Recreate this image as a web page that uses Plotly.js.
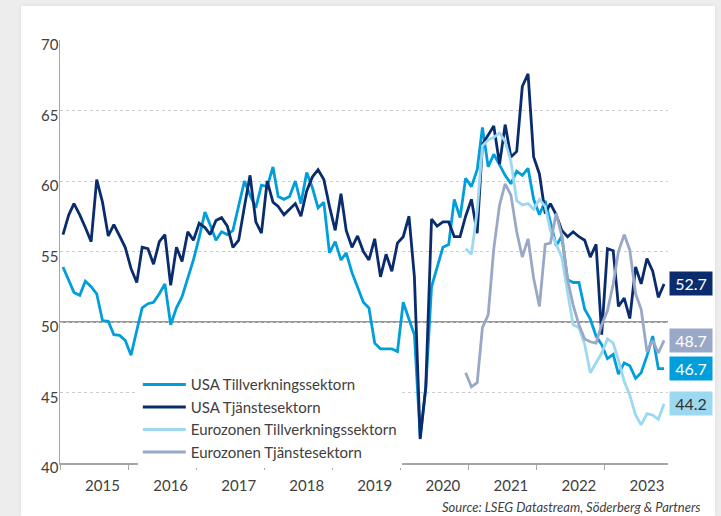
<!DOCTYPE html>
<html><head><meta charset="utf-8">
<script src="https://cdn.plot.ly/plotly-3.0.1.min.js"></script>
<style>
html,body{margin:0;padding:0;background:#eeeded;width:721px;height:516px;overflow:hidden;}
#card{position:absolute;left:21px;top:6px;width:694px;height:510px;background:#fff;box-shadow:0 0 5px rgba(0,0,0,0.07);}
#chart{width:694px;height:510px;}
</style></head>
<body><div id="card"><div id="chart"></div></div>
<script>
// ---- data (monthly) ----
const usaStart = [2015, 1];   // first month of USA series
const euroStart = [2020, 12]; // first month of Eurozone series

const usaManufacturing = [
  53.9, 53.0, 52.1, 51.9, 52.9, 52.5, 52.0, 50.1, 50.05, 49.1, 49.05, 48.7,
  47.65, 49.4, 51.0, 51.3, 51.4, 52.0, 52.7, 49.8, 51.0, 51.8, 53.1, 54.4,
  56.0, 57.8, 56.9, 55.8, 56.4, 56.2, 56.5, 58.3, 60.0, 59.0, 58.1, 59.7,
  59.6, 61.0, 58.9, 58.7, 58.9, 60.0, 58.4, 60.6, 59.5, 58.1, 58.5, 54.9,
  55.7, 54.4, 54.9, 53.5, 52.4, 51.4, 51.0, 48.5, 48.1, 48.1, 48.1, 47.9,
  51.4, 50.2, 49.1, 41.85, 45.3, 52.5, 53.9, 55.3, 55.5, 58.7, 57.4, 60.2,
  59.6, 60.8, 63.8, 61.0, 61.9, 61.1, 60.4, 59.8, 60.7, 60.4, 60.9, 58.7,
  57.6, 58.6, 57.1, 55.4, 56.1, 53.0, 52.8, 52.8, 50.9, 50.2, 49.0, 48.4,
  47.4, 47.7, 46.3, 47.1, 46.9, 46.0, 46.4, 47.6, 49.0, 46.7, 46.7
];
const usaServices = [
  56.2, 57.6, 58.4, 57.6, 56.7, 55.7, 60.1, 58.5, 56.1, 56.9, 56.1, 55.3,
  53.8, 52.8, 55.3, 55.2, 54.1, 55.7, 56.2, 52.6, 55.3, 54.3, 56.4, 55.8,
  57.0, 56.7, 56.2, 57.2, 57.4, 56.8, 55.3, 55.8, 58.2, 60.4, 57.1, 56.3,
  60.0, 58.5, 58.2, 57.6, 58.0, 58.4, 57.5, 59.3, 60.3, 60.8, 60.1, 58.2,
  56.5, 59.1, 56.5, 55.3, 56.1, 55.0, 54.4, 55.9, 53.2, 54.8, 53.6, 55.6,
  56.05, 57.5, 53.2, 41.7, 45.4, 57.3, 56.8, 57.1, 57.1, 56.05, 56.05, 57.5,
  58.7, 56.3, 62.6, 63.3, 63.9, 61.2, 64.0, 61.7, 62.1, 66.7, 67.6, 61.7,
  60.5, 57.7, 58.4, 57.6, 56.5, 56.05, 56.4, 56.05, 55.8, 54.6, 55.5, 49.1,
  55.2, 55.05, 51.1, 51.7, 50.25, 53.9, 52.7, 54.5, 53.6, 51.75, 52.7
];
const euroManufacturing = [
  55.2,
  54.8, 57.9, 62.5, 62.9, 63.1, 63.4, 62.8, 61.4, 58.6, 58.3, 58.4, 58.0,
  58.7, 58.2, 56.5, 55.5, 54.6, 52.1, 49.8, 49.6, 48.4, 46.4, 47.1, 47.8,
  48.8, 48.5, 47.3, 45.8, 44.8, 43.4, 42.7, 43.5, 43.4, 43.1, 44.2
];
const euroServices = [
  46.4,
  45.4, 45.7, 49.6, 50.5, 55.2, 58.3, 59.8, 59.0, 56.4, 54.6, 55.9, 53.1,
  51.1, 55.5, 55.6, 57.7, 56.1, 53.0, 51.2, 49.8, 48.8, 48.6, 48.5, 49.8,
  50.8, 52.7, 55.0, 56.2, 55.1, 52.0, 50.9, 47.9, 48.7, 47.8, 48.7
];
const seriesNames = ['USA Tillverkningssektorn', 'USA Tjänstesektorn',
                     'Eurozonen Tillverkningssektorn', 'Eurozonen Tjänstesektorn'];
const yearLabels = ['2015','2016','2017','2018','2019','2020','2021','2022','2023'];
const yTicks = [40, 45, 50, 55, 60, 65, 70];
const sourceText = 'Source: LSEG Datastream, Söderberg & Partners';

// ---- styling ----
const colors = ['#009edb', '#0b2c6c', '#9dd8f1', '#9aa8c7'];
const labelTextColors = ['#ffffff', '#ffffff', '#333333', '#ffffff'];
const FONT = 'Lato, "Open Sans", sans-serif';
const TXT = '#404040';

function monthDates(start, n) {
  const out = [];
  for (let i = 0; i < n; i++) {
    const t = (start[1] - 1) + i;
    const y = start[0] + Math.floor(t / 12);
    const m = (t % 12) + 1;
    out.push(y + '-' + String(m).padStart(2, '0') + '-01');
  }
  return out;
}

const xUsa = monthDates(usaStart, usaManufacturing.length);
const xEuro = monthDates(euroStart, euroManufacturing.length);
const seriesData = [usaManufacturing, usaServices, euroManufacturing, euroServices];
const seriesX = [xUsa, xUsa, xEuro, xEuro];

const traces = seriesData.map((ys, i) => ({
  type: 'scatter', mode: 'lines', name: seriesNames[i],
  x: seriesX[i], y: ys,
  line: {color: colors[i], width: 2.8},
  hoverinfo: 'skip'
}));

// value labels at right (last values)
const boxOrder = [1, 3, 0, 2];
const annotations = boxOrder.map(i => {
  const v = seriesData[i][seriesData[i].length - 1];
  return {
    xref: 'paper', x: 1, xanchor: 'left', xshift: 1,
    yref: 'y', y: v, yanchor: 'middle',
    text: v.toFixed(1), showarrow: false,
    bgcolor: colors[i], width: 42, height: 23, borderpad: 0,
    font: {family: FONT, size: 16, color: labelTextColors[i]}
  };
});
annotations.push({
  xref: 'paper', x: 1.058, xanchor: 'right',
  yref: 'paper', y: -0.103, yanchor: 'middle',
  text: '<i>' + sourceText.replace('&', '&amp;') + '</i>', showarrow: false,
  font: {family: FONT, size: 13, color: TXT}
});

const layout = {
  width: 694, height: 510,
  margin: {l: 39, r: 47, t: 34, b: 53},
  paper_bgcolor: '#ffffff', plot_bgcolor: '#ffffff',
  font: {family: FONT, color: TXT, size: 15},
  showlegend: true,
  legend: {
    x: 0.128, y: 0.224, xanchor: 'left', yanchor: 'top',
    bgcolor: '#ffffff', borderwidth: 0,
    font: {family: FONT, size: 15, color: TXT},
    itemwidth: 43, tracegroupgap: 0
  },
  xaxis: {
    type: 'date',
    range: ['2014-12-16', '2023-11-22'],
    tickmode: 'array',
    tickvals: yearLabels.map(y => y + '-08-01'),
    ticktext: yearLabels,
    ticks: '', showgrid: false, zeroline: false,
    showline: true, linecolor: '#a6a6a6', linewidth: 1.5,
    tickfont: {family: FONT, size: 15, color: TXT},
    ticklabelstandoff: 8,
    minor: {
      tickmode: 'array',
      tickvals: ['2014','2015','2016','2017','2018','2019','2020','2021','2022','2023'].map(y => y + '-12-16'),
      ticks: 'outside', ticklen: 5, tickwidth: 1, tickcolor: '#a6a6a6', showgrid: false
    },
    fixedrange: true
  },
  yaxis: {
    range: [40, 70], tickmode: 'array', tickvals: yTicks,
    ticks: '', showgrid: true, gridcolor: '#cccccc', griddash: 'dot', gridwidth: 1,
    zeroline: false, showline: true, linecolor: '#a6a6a6', linewidth: 1.5,
    tickfont: {family: FONT, size: 15, color: TXT},
    ticklabelshift: 5, ticklabelstandoff: -3,
    fixedrange: true
  },
  shapes: [{
    type: 'line', xref: 'paper', x0: 0, x1: 1, yref: 'y', y0: 50, y1: 50,
    line: {color: '#333333', width: 1.2}, layer: 'between'
  }],
  annotations: annotations
};

Plotly.newPlot('chart', traces, layout, {displayModeBar: false, staticPlot: true});
</script>
</body></html>
